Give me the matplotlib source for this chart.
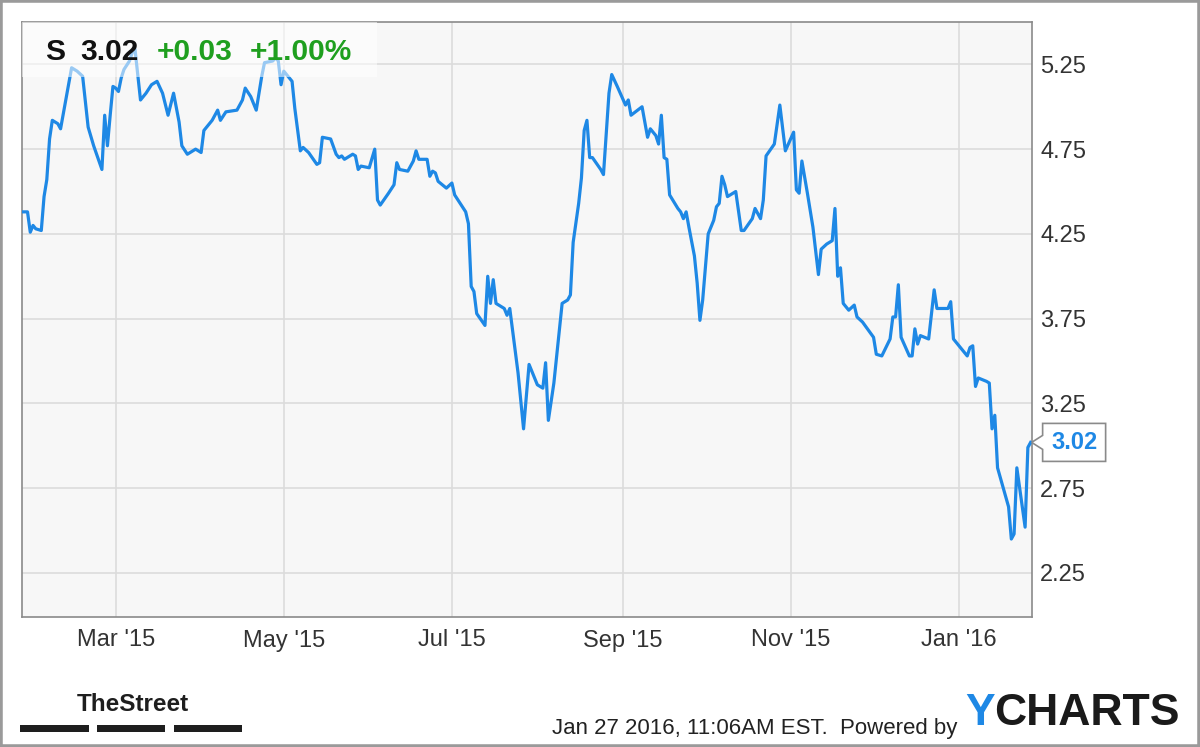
import matplotlib
matplotlib.use('Agg')
import matplotlib.pyplot as plt
import matplotlib.dates as mdates
from matplotlib.patches import Rectangle, Polygon
from matplotlib.transforms import IdentityTransform
import pandas as pd

plt.rcParams['font.family'] = ['Liberation Sans', 'DejaVu Sans']

# S (Sprint) daily closes
dates = [
    '2015-01-26', '2015-01-28', '2015-01-29', '2015-01-30', '2015-01-31', '2015-02-02', '2015-02-03', '2015-02-04', '2015-02-05', '2015-02-06',
    '2015-02-08', '2015-02-09', '2015-02-11', '2015-02-13', '2015-02-15', '2015-02-17', '2015-02-19', '2015-02-21', '2015-02-24', '2015-02-25',
    '2015-02-26', '2015-02-27', '2015-02-28', '2015-03-01', '2015-03-02', '2015-03-03', '2015-03-04', '2015-03-06', '2015-03-07', '2015-03-08',
    '2015-03-10', '2015-03-12', '2015-03-14', '2015-03-16', '2015-03-18', '2015-03-20', '2015-03-22', '2015-03-24', '2015-03-25', '2015-03-27',
    '2015-03-29', '2015-03-30', '2015-04-01', '2015-04-02', '2015-04-05', '2015-04-07', '2015-04-08', '2015-04-10', '2015-04-14', '2015-04-16',
    '2015-04-17', '2015-04-19', '2015-04-21', '2015-04-23', '2015-04-24', '2015-04-27', '2015-04-28', '2015-04-29', '2015-04-30', '2015-05-01',
    '2015-05-04', '2015-05-05', '2015-05-07', '2015-05-08', '2015-05-10', '2015-05-13', '2015-05-14', '2015-05-15', '2015-05-18', '2015-05-20',
    '2015-05-21', '2015-05-22', '2015-05-23', '2015-05-26', '2015-05-27', '2015-05-28', '2015-05-29', '2015-06-01', '2015-06-03', '2015-06-04',
    '2015-06-05', '2015-06-08', '2015-06-10', '2015-06-11', '2015-06-12', '2015-06-15', '2015-06-17', '2015-06-18', '2015-06-19', '2015-06-22',
    '2015-06-23', '2015-06-24', '2015-06-25', '2015-06-26', '2015-06-29', '2015-07-01', '2015-07-02', '2015-07-06', '2015-07-07', '2015-07-08',
    '2015-07-09', '2015-07-10', '2015-07-13', '2015-07-14', '2015-07-15', '2015-07-16', '2015-07-17', '2015-07-20', '2015-07-21', '2015-07-22',
    '2015-07-25', '2015-07-27', '2015-07-29', '2015-08-01', '2015-08-03', '2015-08-04', '2015-08-05', '2015-08-07', '2015-08-10', '2015-08-12',
    '2015-08-13', '2015-08-14', '2015-08-16', '2015-08-17', '2015-08-18', '2015-08-19', '2015-08-20', '2015-08-21', '2015-08-24', '2015-08-25',
    '2015-08-27', '2015-08-28', '2015-08-30', '2015-09-02', '2015-09-03', '2015-09-04', '2015-09-08', '2015-09-10', '2015-09-11', '2015-09-13',
    '2015-09-14', '2015-09-15', '2015-09-16', '2015-09-17', '2015-09-18', '2015-09-21', '2015-09-22', '2015-09-23', '2015-09-24', '2015-09-25',
    '2015-09-27', '2015-09-28', '2015-09-29', '2015-09-30', '2015-10-02', '2015-10-04', '2015-10-05', '2015-10-06', '2015-10-07', '2015-10-08',
    '2015-10-09', '2015-10-12', '2015-10-14', '2015-10-15', '2015-10-18', '2015-10-19', '2015-10-21', '2015-10-22', '2015-10-23', '2015-10-26',
    '2015-10-28', '2015-10-30', '2015-11-02', '2015-11-03', '2015-11-04', '2015-11-05', '2015-11-07', '2015-11-09', '2015-11-11', '2015-11-12',
    '2015-11-14', '2015-11-16', '2015-11-17', '2015-11-18', '2015-11-19', '2015-11-20', '2015-11-22', '2015-11-24', '2015-11-25', '2015-11-27',
    '2015-12-01', '2015-12-02', '2015-12-04', '2015-12-07', '2015-12-08', '2015-12-09', '2015-12-10', '2015-12-11', '2015-12-14', '2015-12-15',
    '2015-12-16', '2015-12-17', '2015-12-18', '2015-12-21', '2015-12-23', '2015-12-24', '2015-12-28', '2015-12-29', '2015-12-30',
    '2016-01-04', '2016-01-05', '2016-01-06', '2016-01-07', '2016-01-08', '2016-01-11', '2016-01-12', '2016-01-13', '2016-01-14', '2016-01-15',
    '2016-01-19', '2016-01-20', '2016-01-21', '2016-01-22', '2016-01-25', '2016-01-26', '2016-01-27',
]
prices = [
    4.38, 4.38, 4.26, 4.30, 4.28, 4.27, 4.47, 4.57, 4.81, 4.92,
    4.90, 4.87, 5.05, 5.23, 5.21, 5.18, 4.88, 4.77, 4.63, 4.95,
    4.77, 4.95, 5.12, 5.11, 5.09, 5.17, 5.22, 5.27, 5.32, 5.34,
    5.04, 5.08, 5.13, 5.15, 5.08, 4.95, 5.08, 4.91, 4.77, 4.72,
    4.74, 4.75, 4.73, 4.86, 4.92, 4.98, 4.92, 4.97, 4.98, 5.04,
    5.11, 5.06, 4.98, 5.18, 5.26, 5.27, 5.29, 5.27, 5.13, 5.21,
    5.15, 4.99, 4.74, 4.76, 4.73, 4.66, 4.67, 4.82, 4.81, 4.72,
    4.70, 4.71, 4.69, 4.72, 4.71, 4.63, 4.65, 4.64, 4.75, 4.45,
    4.42, 4.49, 4.54, 4.67, 4.63, 4.62, 4.68, 4.74, 4.69, 4.69,
    4.59, 4.62, 4.61, 4.56, 4.52, 4.55, 4.48, 4.38, 4.31, 3.94,
    3.91, 3.78, 3.71, 4.00, 3.84, 3.98, 3.84, 3.81, 3.77, 3.81,
    3.43, 3.10, 3.48, 3.36, 3.34, 3.49, 3.15, 3.37, 3.84, 3.86,
    3.89, 4.20, 4.43, 4.58, 4.86, 4.92, 4.70, 4.70, 4.63, 4.60,
    5.08, 5.19, 5.12, 5.01, 5.04, 4.95, 5.00, 4.82, 4.87, 4.83,
    4.78, 4.95, 4.70, 4.69, 4.48, 4.40, 4.38, 4.34, 4.38, 4.29,
    4.12, 3.96, 3.74, 3.86, 4.25, 4.33, 4.41, 4.43, 4.59, 4.54,
    4.47, 4.50, 4.27, 4.27, 4.34, 4.40, 4.34, 4.45, 4.71, 4.78,
    5.01, 4.74, 4.85, 4.51, 4.49, 4.68, 4.49, 4.29, 4.01, 4.16,
    4.19, 4.21, 4.40, 4.00, 4.05, 3.84, 3.80, 3.83, 3.76, 3.73,
    3.64, 3.54, 3.53, 3.63, 3.76, 3.76, 3.95, 3.64, 3.53, 3.53,
    3.69, 3.60, 3.65, 3.63, 3.92, 3.81, 3.81, 3.85, 3.63,
    3.53, 3.58, 3.59, 3.35, 3.40, 3.38, 3.37, 3.10, 3.18, 2.87,
    2.64, 2.45, 2.48, 2.87, 2.52, 2.99, 3.02,
]

xtick_dates = ['2015-03-01', '2015-05-01', '2015-07-01', '2015-09-01', '2015-11-01', '2016-01-01']
xtick_labels = ["Mar '15", "May '15", "Jul '15", "Sep '15", "Nov '15", "Jan '16"]
ytick_values = [2.25, 2.75, 3.25, 3.75, 4.25, 4.75, 5.25]

ticker = 'S'
last_price = '3.02'
change = '+0.03'
change_pct = '+1.00%'

BLUE = '#1e88e5'
GREEN = '#1f9f1f'

W, H = 1200, 747


def fx(x):
    return x / W


def fy(y):
    return 1 - y / H


fig = plt.figure(figsize=(12, 7.47), dpi=100)
fig.patch.set_facecolor('white')
ax = fig.add_axes([fx(22), fy(617), (1032 - 22) / W, (617 - 22) / H])
ax.set_facecolor('#f7f7f7')

x = pd.to_datetime(dates)
ax.plot(x, prices, color=BLUE, lw=2.3, solid_joinstyle='round', zorder=3)

ax.set_xlim(pd.Timestamp('2015-01-26'), pd.Timestamp('2016-01-27 12:00'))
ax.set_ylim(1.99, 5.50)
ax.set_yticks(ytick_values)
ax.set_yticklabels([f'{v:.2f}' for v in ytick_values])
ax.set_xticks(pd.to_datetime(xtick_dates))
ax.set_xticklabels(xtick_labels)
ax.yaxis.tick_right()
ax.tick_params(axis='both', length=0, labelsize=17, labelcolor='#333333')
ax.tick_params(axis='y', pad=6)
ax.tick_params(axis='x', pad=9)
ax.grid(True, color='#dcdcdc', lw=1.2)
ax.set_axisbelow(True)
for s in ax.spines.values():
    s.set_color('#8a8a8a')
    s.set_linewidth(1.2)

# faded header strip
ax.add_patch(Rectangle((0, 1 - 55 / 595), 355 / 1010, 55 / 595, transform=ax.transAxes,
                       fc='white', ec='none', alpha=0.55, zorder=4))
hdr = dict(fontsize=21.5, fontweight='bold', va='baseline', zorder=5)
fig.text(fx(45), fy(60), ticker, color='#111111', **hdr)
fig.text(fx(80), fy(60), last_price, color='#111111', **hdr)
fig.text(fx(157), fy(60), change, color=GREEN, **hdr)
fig.text(fx(250), fy(60), change_pct, color=GREEN, **hdr)

# last value flag
tx, ty = ax.transData.transform((mdates.date2num(x[-1]), prices[-1]))
flag = [(tx + 1, ty), (tx + 12, ty + 7), (tx + 12, ty + 19), (tx + 75, ty + 19),
        (tx + 75, ty - 19), (tx + 12, ty - 19), (tx + 12, ty - 7)]
fig.add_artist(Polygon(flag, closed=True, transform=IdentityTransform(),
                       fc='white', ec='#8a8a8a', lw=1.2, zorder=6))
fig.text((tx + 44) / W, ty / H, f'{prices[-1]:.2f}', color=BLUE, fontsize=17,
         fontweight='bold', ha='center', va='center', zorder=7)

# footer: TheStreet logo
fig.text(fx(77), fy(711), 'TheStreet', fontsize=17.5, fontweight='bold', color='#1e1e1e',
         va='baseline')
for x0, x1 in [(20, 89), (97, 165), (174, 242)]:
    fig.add_artist(Rectangle((fx(x0), fy(731.5)), (x1 - x0) / W, 6.5 / H,
                             transform=fig.transFigure, fc='#1e1e1e', ec='none'))

fig.text(fx(957), fy(734), 'Jan 27 2016, 11:06AM EST.  Powered by', fontsize=16,
         color='#222222', ha='right', va='baseline')
ty_txt = fig.text(fx(965), fy(725), 'Y', fontsize=32, fontweight='bold', color=BLUE, va='baseline')
fig.canvas.draw()
bb = ty_txt.get_window_extent()
fig.text(bb.x1 / W, fy(725), 'CHARTS', fontsize=32, fontweight='bold', color='#1a1a1a', va='baseline')

fig.add_artist(Rectangle((0, 0), 1, 1, transform=fig.transFigure, fill=False,
                         ec='#9a9a9a', lw=4))

fig.savefig('out.png', dpi=100)
